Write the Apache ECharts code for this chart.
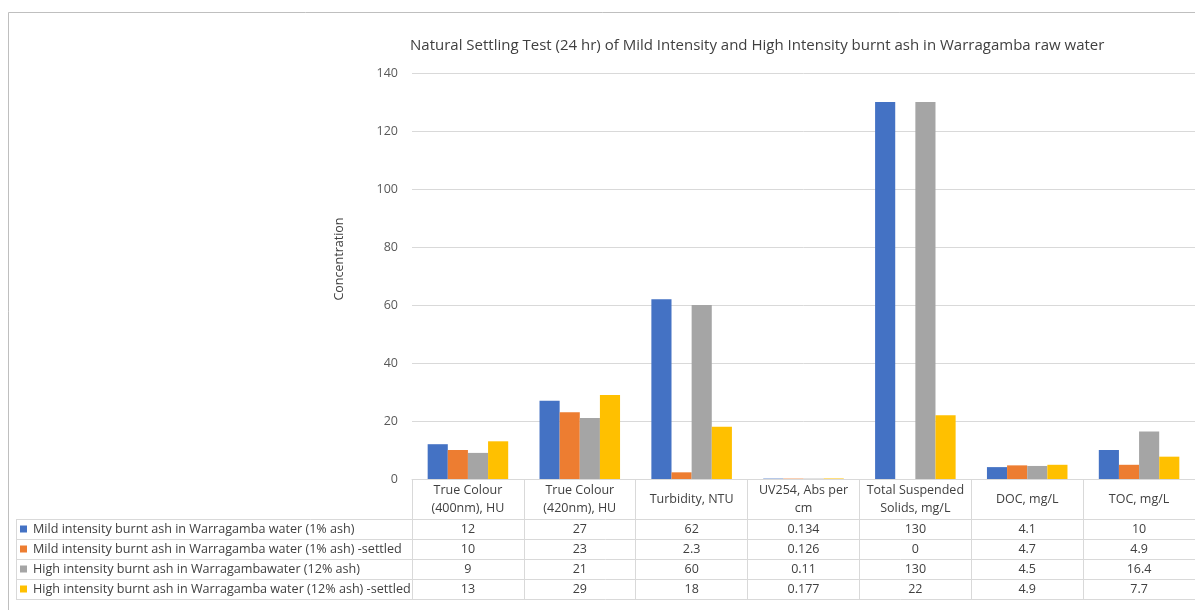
<!DOCTYPE html>
<html><head><meta charset="utf-8">
<script src="https://cdn.jsdelivr.net/npm/echarts@6/dist/echarts.min.js"></script>
<style>html,body{margin:0;padding:0;background:#fff}#c{width:1195px;height:610px}</style>
</head><body><div id="c"></div>
<script>
const chartTitle = 'Natural Settling Test (24 hr) of Mild Intensity and High Intensity burnt ash in Warragamba raw water';
const yAxisTitle = 'Concentration';
const categories = ['True Colour\n(400nm), HU', 'True Colour\n(420nm), HU', 'Turbidity, NTU', 'UV254, Abs per\ncm', 'Total Suspended\nSolids, mg/L', 'DOC, mg/L', 'TOC, mg/L'];
const seriesNames = [
  'Mild intensity burnt ash in Warragamba water (1% ash)',
  'Mild intensity burnt ash in Warragamba water (1% ash) -settled',
  'High intensity burnt ash in Warragambawater (12% ash)',
  'High intensity burnt ash in Warragamba water (12% ash) -settled'
];
const mildRaw     = [12, 27, 62,  0.134, 130, 4.1, 10];
const mildSettled = [10, 23, 2.3, 0.126, 0,   4.7, 4.9];
const highRaw     = [9,  21, 60,  0.11,  130, 4.5, 16.4];
const highSettled = [13, 29, 18,  0.177, 22,  4.9, 7.7];
const yMin = 0, yMax = 140, yStep = 20;

const seriesValues = [mildRaw, mildSettled, highRaw, highSettled];
const colors = ['#4472C4', '#ED7D31', '#A5A5A5', '#FFC000'];
const FONT = 'Open Sans';
const TXT = '#595959';
const LINE = '#d9d9d9';

const GRID_LEFT = 412, GRID_TOP = 73, GRID_W = 791, GRID_BOTTOM_Y = 479;
const HEADER_H = 40, ROW_H = 20, TABLE_LEFT = 16;

const chart = echarts.init(document.getElementById('c'), null, {renderer: 'canvas'});

const option = {
  backgroundColor: '#fff',
  animation: false,
  color: colors,
  title: {
    text: chartTitle,
    left: 410, top: 38, padding: 0,
    textStyle: {fontFamily: FONT, fontSize: 15, fontWeight: 'normal', color: '#404040'}
  },
  legend: {
    orient: 'vertical',
    left: TABLE_LEFT + 4, top: GRID_BOTTOM_Y + HEADER_H, padding: 0,
    itemWidth: 7, itemHeight: 7, itemGap: 0,
    icon: 'rect',
    selectedMode: false,
    data: seriesNames,
    textStyle: {fontFamily: FONT, fontSize: 12.6, color: '#404040', lineHeight: ROW_H, height: ROW_H, padding: [0, 0, 0, 1]}
  },
  grid: {left: GRID_LEFT, top: GRID_TOP, width: GRID_W, height: GRID_BOTTOM_Y - GRID_TOP, containLabel: false},
  xAxis: [
    {
      type: 'category', data: categories, position: 'bottom',
      axisLine: {show: true, lineStyle: {color: LINE}},
      axisTick: {show: true, interval: 0, length: HEADER_H + ROW_H * seriesValues.length, lineStyle: {color: LINE}},
      axisLabel: {interval: 0, margin: HEADER_H / 2, verticalAlign: 'middle', lineHeight: 18,
        fontFamily: FONT, fontSize: 12.5, color: '#404040'}
    },
    {
      type: 'category', data: categories, position: 'bottom', gridIndex: 0,
      axisLine: {show: false}, axisTick: {show: false},
      axisLabel: {interval: 0, margin: HEADER_H, verticalAlign: 'top', lineHeight: ROW_H,
        fontFamily: FONT, fontSize: 12.5, color: '#404040',
        formatter: (v, i) => seriesValues.map(arr => String(arr[i])).join('\n')}
    }
  ],
  yAxis: {
    type: 'value', min: yMin, max: yMax, interval: yStep,
    name: yAxisTitle, nameLocation: 'middle', nameGap: 66, nameRotate: 90,
    nameTextStyle: {fontFamily: FONT, fontSize: 12.5, color: '#404040', padding: [0, 0, 0, 34]},
    axisLine: {show: false}, axisTick: {show: false},
    axisLabel: {margin: 14, fontFamily: FONT, fontSize: 12.5, color: TXT},
    splitLine: {lineStyle: {color: LINE}}
  },
  series: seriesNames.map((n, k) => ({
    name: n, type: 'bar', data: seriesValues[k],
    barGap: '0%', barCategoryGap: '28%',
    itemStyle: {color: colors[k]}
  }))
};
chart.setOption(option);

// table rules + outer chart border
const x0 = chart.convertToPixel({xAxisIndex: 0}, 0);
const x1 = chart.convertToPixel({xAxisIndex: 0}, 1);
const band = x1 - x0;
const rightEdge = chart.convertToPixel({xAxisIndex: 0}, categories.length - 1) + band / 2;
const yBase = chart.convertToPixel({yAxisIndex: 0}, yMin);
const elements = [{
  type: 'rect', shape: {x: 8.5, y: 12.5, width: 1300, height: 700},
  style: {fill: null, stroke: '#bfbfbf', lineWidth: 1}, silent: true
}];
for (let r = 0; r <= seriesValues.length; r++) {
  const y = Math.round(yBase + HEADER_H + r * ROW_H) + 0.5;
  elements.push({type: 'line', shape: {x1: TABLE_LEFT, y1: y, x2: rightEdge, y2: y},
    style: {stroke: LINE, lineWidth: 1}, silent: true});
}
elements.push({type: 'line', shape: {x1: TABLE_LEFT + 0.5, y1: yBase + HEADER_H, x2: TABLE_LEFT + 0.5, y2: yBase + HEADER_H + ROW_H * seriesValues.length},
  style: {stroke: LINE, lineWidth: 1}, silent: true});
chart.setOption({graphic: {elements}});
</script>
</body></html>
